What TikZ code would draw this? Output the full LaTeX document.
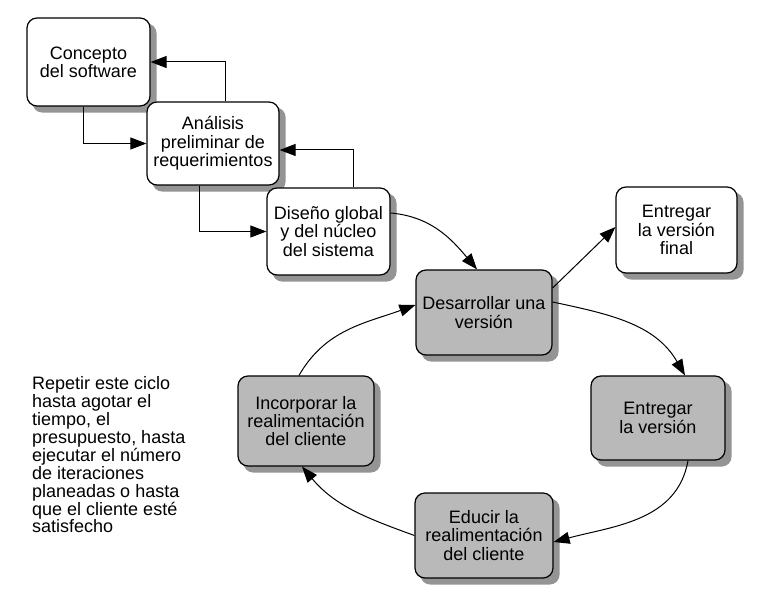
\documentclass[tikz,border=0pt]{standalone}
\usepackage{fontspec}
\setmainfont{Liberation Sans}
\usepackage{tikz}
\usetikzlibrary{arrows.meta}
\usetikzlibrary{backgrounds}

\begin{document}
\begin{tikzpicture}[x=1pt,y=-1pt,
  etapa/.style={draw, line width=1.2pt, rounded corners=10pt, fill=white, align=center,
    inner sep=0pt, font=\fontsize{18}{18.3}\selectfont},
  ciclo/.style={etapa, fill=gray!55},
  sombra/.style={fill=black!42, rounded corners=10pt},
  flecha/.style={line width=1pt, -{Triangle[length=16pt, width=12pt]}}]

\useasboundingbox (0,0) rectangle (766,601);

% Fases iniciales (cascada)
\node[etapa, minimum width=123pt, minimum height=88pt] (concepto) at (88.5,62) {Concepto\\del software};
\node[etapa, minimum width=132pt, minimum height=83pt] (analisis) at (213,143.5) {Análisis\\preliminar de\\requerimientos};
\node[etapa, minimum width=123pt, minimum height=87pt] (diseno) at (328.5,231.5) {Diseño global\\y del núcleo\\del sistema};
\node[etapa, minimum width=121pt, minimum height=86pt] (final) at (676.5,230) {Entregar\\la versión\\final};

% Ciclo de versiones
\node[ciclo, minimum width=136pt, minimum height=85pt] (desarrollar) at (484,312.5) {Desarrollar una\\versión};
\node[ciclo, minimum width=134pt, minimum height=84pt] (entregar) at (658,418) {Entregar\\la versión};
\node[ciclo, minimum width=138pt, minimum height=85pt] (educir) at (484,535.5) {Educir la\\realimentación\\del cliente};
\node[ciclo, minimum width=136pt, minimum height=90pt] (incorporar) at (306,421) {Incorporar la\\realimentación\\del cliente};

% Sombras
\begin{scope}[on background layer]
\foreach \n in {concepto,analisis,diseno,final,desarrollar,entregar,educir,incorporar}
  \fill[sombra] ([shift={(6pt,-6pt)}]\n.south west) rectangle ([shift={(6pt,-6pt)}]\n.north east);
\end{scope}

\node[anchor=north west, align=left, inner sep=0pt, font=\fontsize{18}{17.9}\selectfont] (nota) at (32,376.5)
  {Repetir este ciclo\\hasta agotar el\\tiempo, el\\presupuesto, hasta\\ejecutar el número\\de iteraciones\\planeadas o hasta\\que el cliente esté\\satisfecho};

% Flechas de la cascada
\draw[flecha] ([xshift=-5.5pt]concepto.south) |- (analisis.west);
\draw[flecha] ([xshift=12pt]analisis.north) |- (concepto.east);
\draw[flecha] ([xshift=-14pt]analisis.south) |- (diseno.west);
\draw[flecha] ([xshift=24.5pt]diseno.north) |- ([yshift=-6.5pt]analisis.east);
\draw[flecha] ([yshift=18.5pt]diseno.east) to[out=-5, in=130] ([xshift=-7pt]desarrollar.north);
\draw[flecha] ([yshift=24.5pt]desarrollar.east) -- ([yshift=3pt]final.west);

% Flechas del ciclo
\draw[flecha] ([yshift=10.5pt]desarrollar.east) to[out=-12, in=120] ([xshift=27pt]entregar.north);
\draw[flecha] ([xshift=30pt]entregar.south) to[out=-100, in=15] ([yshift=-6.5pt]educir.east);
\draw[flecha] (educir.west) to[out=160, in=-50] ([xshift=-4pt]incorporar.south);
\draw[flecha] ([xshift=-7pt]incorporar.north) to[out=60, in=200] ([yshift=7.5pt]desarrollar.west);

\end{tikzpicture}
\end{document}
